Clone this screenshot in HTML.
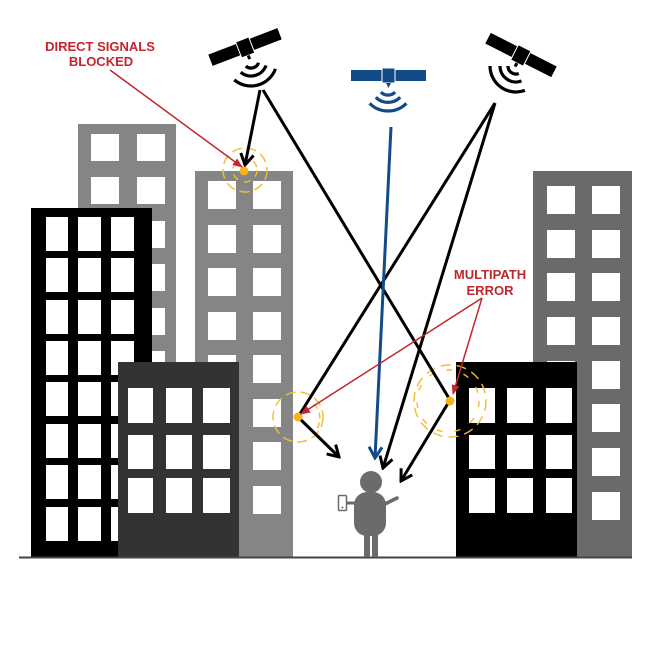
<!DOCTYPE html>
<html><head><meta charset="utf-8"><style>html,body{margin:0;padding:0;background:#fff}svg{display:block}</style></head>
<body>
<svg width="650" height="650" viewBox="0 0 650 650" xmlns="http://www.w3.org/2000/svg">
<defs>
<marker id="ak" viewBox="0 0 16 16" refX="14" refY="8" markerWidth="16" markerHeight="16" markerUnits="userSpaceOnUse" orient="auto"><path d="M3,1.5 L14,8 L3,14.5" fill="none" stroke="#000" stroke-width="3"/></marker>
<marker id="ab" viewBox="0 0 16 16" refX="14" refY="8" markerWidth="16" markerHeight="16" markerUnits="userSpaceOnUse" orient="auto"><path d="M3,1.5 L14,8 L3,14.5" fill="none" stroke="#114b88" stroke-width="3"/></marker>
<marker id="ar" viewBox="0 0 10 8" refX="9" refY="4" markerWidth="10" markerHeight="8" markerUnits="userSpaceOnUse" orient="auto"><path d="M0,0 L10,4 L0,8 z" fill="#c1272d"/></marker>
</defs>
<rect width="650" height="650" fill="#fff"/>

<!-- Building A -->
<rect x="78" y="124" width="98" height="433" fill="#858585"/>
<g fill="#fff">
<rect x="91" y="134" width="28" height="27"/><rect x="137" y="134" width="28" height="27"/>
<rect x="91" y="177" width="28" height="27"/><rect x="137" y="177" width="28" height="27"/>
<rect x="91" y="221" width="28" height="27"/><rect x="137" y="221" width="28" height="27"/>
<rect x="91" y="264" width="28" height="27"/><rect x="137" y="264" width="28" height="27"/>
<rect x="91" y="308" width="28" height="27"/><rect x="137" y="308" width="28" height="27"/>
<rect x="91" y="351" width="28" height="27"/><rect x="137" y="351" width="28" height="27"/>
</g>

<!-- Building B -->
<rect x="195" y="171" width="98" height="386" fill="#858585"/>
<g fill="#fff">
<rect x="208" y="181" width="28" height="28"/><rect x="253" y="181" width="28" height="28"/>
<rect x="208" y="225" width="28" height="28"/><rect x="253" y="225" width="28" height="28"/>
<rect x="208" y="268" width="28" height="28"/><rect x="253" y="268" width="28" height="28"/>
<rect x="208" y="312" width="28" height="28"/><rect x="253" y="312" width="28" height="28"/>
<rect x="208" y="355" width="28" height="28"/><rect x="253" y="355" width="28" height="28"/>
<rect x="208" y="399" width="28" height="28"/><rect x="253" y="399" width="28" height="28"/>
<rect x="208" y="442" width="28" height="28"/><rect x="253" y="442" width="28" height="28"/>
<rect x="208" y="486" width="28" height="28"/><rect x="253" y="486" width="28" height="28"/>
</g>

<!-- Building E -->
<rect x="533" y="171" width="99" height="386" fill="#6a6a6a"/>
<g fill="#fff">
<rect x="547" y="186" width="28" height="28"/><rect x="592" y="186" width="28" height="28"/>
<rect x="547" y="230" width="28" height="28"/><rect x="592" y="230" width="28" height="28"/>
<rect x="547" y="273" width="28" height="28"/><rect x="592" y="273" width="28" height="28"/>
<rect x="547" y="317" width="28" height="28"/><rect x="592" y="317" width="28" height="28"/>
<rect x="547" y="361" width="28" height="28"/><rect x="592" y="361" width="28" height="28"/>
<rect x="547" y="404" width="28" height="28"/><rect x="592" y="404" width="28" height="28"/>
<rect x="547" y="448" width="28" height="28"/><rect x="592" y="448" width="28" height="28"/>
<rect x="547" y="492" width="28" height="28"/><rect x="592" y="492" width="28" height="28"/>
</g>

<!-- Building D -->
<rect x="31" y="208" width="121" height="349" fill="#000"/>
<g fill="#fff">
<rect x="46" y="217" width="22" height="34"/><rect x="78" y="217" width="23" height="34"/><rect x="111" y="217" width="23" height="34"/>
<rect x="46" y="258" width="22" height="34"/><rect x="78" y="258" width="23" height="34"/><rect x="111" y="258" width="23" height="34"/>
<rect x="46" y="300" width="22" height="34"/><rect x="78" y="300" width="23" height="34"/><rect x="111" y="300" width="23" height="34"/>
<rect x="46" y="341" width="22" height="34"/><rect x="78" y="341" width="23" height="34"/><rect x="111" y="341" width="23" height="34"/>
<rect x="46" y="382" width="22" height="34"/><rect x="78" y="382" width="23" height="34"/><rect x="111" y="382" width="23" height="34"/>
<rect x="46" y="424" width="22" height="34"/><rect x="78" y="424" width="23" height="34"/><rect x="111" y="424" width="23" height="34"/>
<rect x="46" y="465" width="22" height="34"/><rect x="78" y="465" width="23" height="34"/><rect x="111" y="465" width="23" height="34"/>
<rect x="46" y="507" width="22" height="34"/><rect x="78" y="507" width="23" height="34"/><rect x="111" y="507" width="23" height="34"/>
</g>

<!-- Building C -->
<rect x="118" y="362" width="121" height="195" fill="#333"/>
<g fill="#fff">
<rect x="128" y="388" width="25" height="35"/><rect x="166" y="388" width="26" height="35"/><rect x="203" y="388" width="27" height="35"/>
<rect x="128" y="435" width="25" height="34"/><rect x="166" y="435" width="26" height="34"/><rect x="203" y="435" width="27" height="34"/>
<rect x="128" y="478" width="25" height="35"/><rect x="166" y="478" width="26" height="35"/><rect x="203" y="478" width="27" height="35"/>
</g>

<!-- Building F -->
<rect x="456" y="362" width="121" height="195" fill="#000"/>
<g fill="#fff">
<rect x="469" y="388" width="26" height="35"/><rect x="507" y="388" width="26" height="35"/><rect x="546" y="388" width="26" height="35"/>
<rect x="469" y="435" width="26" height="34"/><rect x="507" y="435" width="26" height="34"/><rect x="546" y="435" width="26" height="34"/>
<rect x="469" y="478" width="26" height="35"/><rect x="507" y="478" width="26" height="35"/><rect x="546" y="478" width="26" height="35"/>
</g>

<!-- Ground -->
<line x1="19" y1="557.5" x2="632" y2="557.5" stroke="#444" stroke-width="2"/>

<!-- Person -->
<g fill="#6b6b6b">
<circle cx="371" cy="482" r="11"/>
<rect x="354" y="492" width="32" height="44" rx="13"/>
<rect x="364" y="530" width="6" height="27"/>
<rect x="372" y="530" width="6" height="27"/>
</g>
<line x1="385" y1="504" x2="397" y2="498" stroke="#6b6b6b" stroke-width="3.5" stroke-linecap="round"/>
<line x1="346" y1="503" x2="357" y2="503" stroke="#6b6b6b" stroke-width="3"/>
<rect x="338.5" y="495.5" width="8" height="15" fill="#fff" stroke="#6b6b6b" stroke-width="1.5" rx="1"/>
<circle cx="342.5" cy="507.5" r="1" fill="#6b6b6b"/>

<!-- Satellite 1 -->
<g transform="translate(245,47) rotate(-21)">
<rect x="-37" y="-6" width="74" height="12" fill="#000"/>
<rect x="-7" y="-8" width="14" height="17" fill="#000" stroke="#fff" stroke-width="1"/>
<rect x="-1.5" y="9" width="3" height="4" fill="#000"/>
</g>
<g transform="translate(251,60) rotate(-15)" fill="none" stroke="#000" stroke-width="3.2">
<path d="M-6.6,4.6 A8,8 0 0 0 6.6,4.6"/>
<path d="M-13.1,9.2 A16,16 0 0 0 13.1,9.2"/>
<path d="M-21.3,14.9 A26,26 0 0 0 21.3,14.9"/>
</g>

<!-- Satellite 2 (blue) -->
<g transform="translate(388,75)" fill="#114b88">
<rect x="-37" y="-5" width="75" height="11" fill="#114b88"/>
<rect x="-6" y="-7" width="13" height="15" fill="#114b88" stroke="#fff" stroke-width="1"/>
<path d="M-2,8 L3,8 L0.5,13 z"/>
<g fill="none" stroke="#114b88" stroke-width="3.2">
<path d="M-7.1,17.1 A10,10 0 0 0 7.1,17.1"/>
<path d="M-12.2,22.2 A17,17 0 0 0 12.2,22.2"/>
<path d="M-18.4,28.4 A26,26 0 0 0 18.4,28.4"/>
</g>
</g>

<!-- Satellite 3 -->
<g transform="translate(521,55) rotate(27)">
<rect x="-37" y="-6" width="74" height="12" fill="#000"/>
<rect x="-7" y="-8" width="14" height="17" fill="#000" stroke="#fff" stroke-width="1"/>
<rect x="-1.5" y="9" width="3" height="4" fill="#000"/>
</g>
<g transform="translate(516,66) rotate(35)" fill="none" stroke="#000" stroke-width="3.2">
<path d="M-6.6,4.6 A8,8 0 0 0 6.6,4.6"/>
<path d="M-13.1,9.2 A16,16 0 0 0 13.1,9.2"/>
<path d="M-21.3,14.9 A26,26 0 0 0 21.3,14.9"/>
</g>

<!-- Yellow wave circles -->
<g fill="none" stroke="#f1bd2f" stroke-width="1.4">
<circle cx="245" cy="170" r="22" stroke-dasharray="10 5"/>
<circle cx="245" cy="170" r="12" stroke-dasharray="7 6"/>
<circle cx="298" cy="417" r="25" stroke-dasharray="10 5"/>
<path d="M314,404 A20,20 0 0 1 316,430" stroke-dasharray="6 4"/>
<circle cx="450" cy="401" r="36" stroke-dasharray="10 6"/>
<circle cx="448" cy="401" r="31" stroke-dasharray="6 12"/>
</g>

<!-- Signal lines -->
<g stroke="#000" stroke-width="3" fill="none">
<line x1="260" y1="90" x2="245" y2="165" marker-end="url(#ak)"/>
<line x1="263" y1="90" x2="450" y2="400"/>
<line x1="450" y1="400" x2="401" y2="481" marker-end="url(#ak)"/>
<line x1="495" y1="103" x2="298" y2="417"/>
<line x1="298" y1="417" x2="339" y2="457" marker-end="url(#ak)"/>
<line x1="495" y1="103" x2="383" y2="468" marker-end="url(#ak)"/>
</g>
<line x1="391" y1="127" x2="375" y2="458" stroke="#114b88" stroke-width="3" marker-end="url(#ab)"/>

<!-- Yellow dots -->
<g fill="#f7b21c">
<circle cx="244" cy="171" r="4.5"/>
<circle cx="298" cy="417" r="4.5"/>
<circle cx="450" cy="401" r="4.5"/>
</g>

<!-- Red callouts -->
<g stroke="#c1272d" stroke-width="1.5" fill="none">
<line x1="110" y1="70" x2="242" y2="167" marker-end="url(#ar)"/>
<line x1="482" y1="298" x2="301" y2="414" marker-end="url(#ar)"/>
<line x1="482" y1="298" x2="453" y2="394" marker-end="url(#ar)"/>
</g>
<g fill="#c1272d" font-family="'Liberation Sans', sans-serif" font-weight="bold" font-size="13" text-anchor="middle">
<text x="100" y="51">DIRECT SIGNALS</text>
<text x="101" y="66">BLOCKED</text>
<text x="490" y="279">MULTIPATH</text>
<text x="490" y="295">ERROR</text>
</g>
</svg>
</body></html>
